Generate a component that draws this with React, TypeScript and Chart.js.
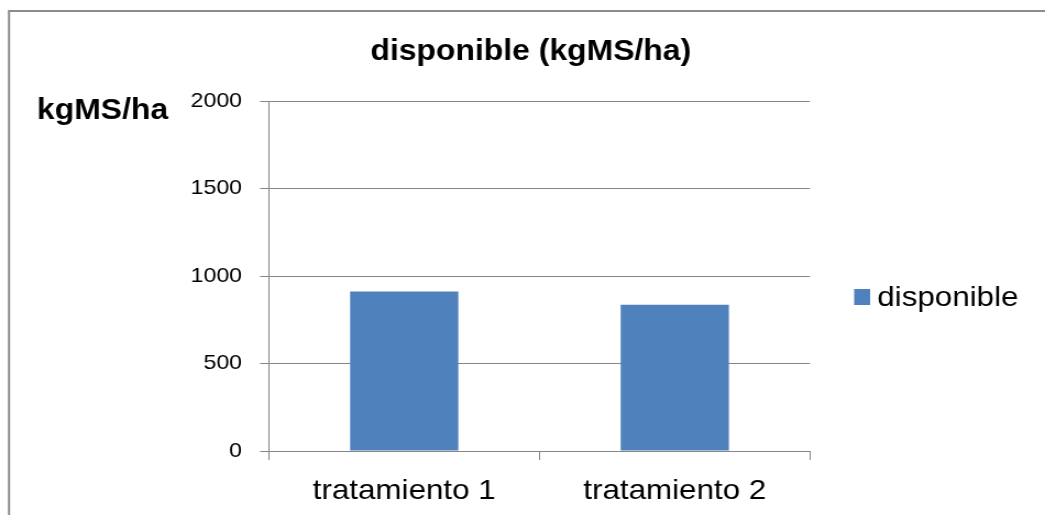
import React, { useEffect, useRef } from "react";
import { Chart, registerables } from "chart.js";

Chart.register(...registerables);

// Chart content
const chartTitle = "disponible (kgMS/ha)";
const yAxisTitle = "kgMS/ha";
const seriesName = "disponible";
const categories = ["tratamiento 1", "tratamiento 2"];
const disponibleValues = [911, 836];
const yTicks = [0, 500, 1000, 1500, 2000];

const FONT = "'Liberation Sans', Arial, sans-serif";
const BAR_COLOR = "#4F81BD";
const GRID_COLOR = "#868686";

// The drawing surface is laid out narrower and widened by CSS (wide-text look)
const OUT_W = 1045;
const OUT_H = 515;
const SX = 1.1;
const W = Math.round(OUT_W / SX);

// Draws the outer frame, the title, the horizontal y-axis title and the legend
const decorations = {
  id: "decorations",
  afterDraw(chart: Chart) {
    const ctx = chart.ctx;
    ctx.save();
    // outer frame (left and top edges)
    ctx.strokeStyle = "#8c8c8c";
    ctx.lineWidth = 2;
    ctx.beginPath();
    ctx.moveTo(8.2, OUT_H);
    ctx.lineTo(8.2, 11);
    ctx.lineTo(W, 11);
    ctx.stroke();

    // title
    ctx.fillStyle = "#000";
    ctx.font = `bold 29px ${FONT}`;
    ctx.textAlign = "center";
    ctx.textBaseline = "alphabetic";
    ctx.fillText(chartTitle, 482.5, 60);

    // y-axis title
    ctx.textAlign = "left";
    ctx.fillText(yAxisTitle, 33.6, 119);

    // legend
    const ds = chart.data.datasets[0];
    ctx.fillStyle = ds.backgroundColor as string;
    ctx.fillRect(776.5, 289, 14.5, 16);
    ctx.fillStyle = "#000";
    ctx.font = `28.5px ${FONT}`;
    ctx.fillText(String(ds.label), 797.5, 306);
    ctx.restore();
  },
};

export default function App() {
  const canvasRef = useRef<HTMLCanvasElement | null>(null);

  useEffect(() => {
    const canvas = canvasRef.current;
    if (!canvas) return;
    const chart = new Chart(canvas, {
      type: "bar",
      data: {
        labels: categories,
        datasets: [
          {
            label: seriesName,
            data: disponibleValues,
            backgroundColor: BAR_COLOR,
            borderWidth: 0,
            barPercentage: 0.4,
            categoryPercentage: 1,
          },
        ],
      },
      options: {
        animation: false,
        responsive: false,
        maintainAspectRatio: false,
        devicePixelRatio: 1,
        layout: { padding: { left: 0, top: 101, right: W - 736.4, bottom: 0 } },
        plugins: {
          legend: { display: false },
          title: { display: false },
          tooltip: { enabled: false },
        },
        scales: {
          x: {
            offset: true,
            grid: {
              offset: true,
              drawOnChartArea: false,
              drawTicks: true,
              tickLength: 9,
              color: GRID_COLOR,
            },
            border: { color: GRID_COLOR, width: 1 },
            ticks: {
              color: "#000",
              font: { family: FONT, size: 28.5 },
              padding: 14,
              maxRotation: 0,
            },
            afterFit: (scale: any) => {
              scale.height = OUT_H - 451;
            },
          },
          y: {
            min: 0,
            max: 2000,
            afterBuildTicks: (scale: any) => {
              scale.ticks = yTicks.map((v) => ({ value: v }));
            },
            grid: {
              color: GRID_COLOR,
              drawTicks: true,
              tickLength: 8,
            },
            border: { color: GRID_COLOR, width: 1 },
            ticks: {
              color: "#000",
              font: { family: FONT, size: 21 },
              padding: 16.5,
              callback: (v: any) => String(v),
            },
            afterFit: (scale: any) => {
              scale.width = 244.5;
            },
          },
        },
      },
      plugins: [decorations],
    });
    return () => chart.destroy();
  }, []);

  return (
    <div style={{ position: "absolute", left: 0, top: 0, width: OUT_W, height: OUT_H, background: "#fff" }}>
      <canvas
        ref={canvasRef}
        width={W}
        height={OUT_H}
        style={{ display: "block", width: OUT_W, height: OUT_H }}
      />
    </div>
  );
}
